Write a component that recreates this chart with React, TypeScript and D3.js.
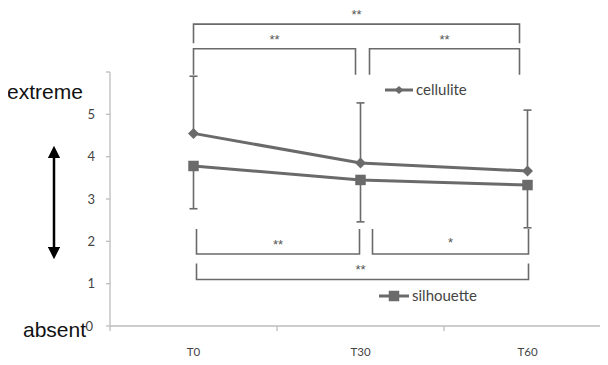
import { scaleBand, scaleLinear, line, symbol, symbolSquare } from 'd3'

const times = ['T0', 'T30', 'T60']
const cellulite = [4.55, 3.85, 3.66]
const celluliteUpper = [5.9, 5.27, 5.1]
const silhouette = [3.78, 3.45, 3.33]
const silhouetteLower = [2.77, 2.46, 2.32]
const yTicks = [0, 1, 2, 3, 4, 5, 6]

// brackets: [from, to, level value, star label]
const topBrackets: [string, string, number, string][] = [
  ['T0', 'T60', 7.13, '**'],
  ['T0', 'T30', 6.55, '**'],
  ['T30', 'T60', 6.55, '**'],
]
const bottomBrackets: [string, string, number, string][] = [
  ['T0', 'T30', 1.7, '**'],
  ['T30', 'T60', 1.7, '*'],
  ['T0', 'T60', 1.1, '**'],
]

const grey = '#6a6a6a'
const tickFont = 'Lato, "Open Sans", sans-serif'
const starFont = '"Liberation Sans", Arial, sans-serif'

export default function App() {
  const x = scaleBand<string>().domain(times).range([110, 611])
  const y = scaleLinear().domain([0, 6]).range([326, 72])
  const cx = (t: string) => (x(t) as number) + x.bandwidth() / 2
  const path = line<number>()
    .x((_, i) => cx(times[i]))
    .y((d) => y(d))
  const diamond = 'M0,-5.5L5.5,0L0,5.5L-5.5,0Z'
  const square = symbol().type(symbolSquare).size(110)()

  return (
    <svg width={608} height={365} style={{ display: 'block', marginTop: -8, marginLeft: -8 }}>
      <defs>
        <marker id="ah" viewBox="0 0 10 10" refX="5" refY="5" markerWidth="5" markerHeight="5" orient="auto-start-reverse">
          <path d="M0,0 L10,5 L0,10 z" fill="#000" />
        </marker>
      </defs>
      <rect width={608} height={365} fill="#fff" />
      {/* axes */}
      <line x1={110} x2={608} y1={y(0)} y2={y(0)} stroke="#bdbdbd" strokeWidth={1.3} />
      <line x1={110} x2={110} y1={y(0)} y2={y(6)} stroke="#bdbdbd" strokeWidth={1.3} />
      {yTicks.map((t) => (
        <g key={t}>
          <line x1={106} x2={110} y1={y(t)} y2={y(t)} stroke="#bdbdbd" strokeWidth={1.3} />
          {t < 6 && (
            <text x={t === 0 ? 93 : 95} y={y(t) + 4.5} textAnchor="end" fontSize={13} fontFamily={tickFont} fill="#444">
              {t}
            </text>
          )}
        </g>
      ))}
      {[...times.map((t) => x(t) as number), 611].map((v, i) => (
        <line key={i} x1={v} x2={v} y1={y(0)} y2={y(0) + 5} stroke="#bdbdbd" strokeWidth={1.3} />
      ))}
      {times.map((t) => (
        <text key={t} x={cx(t)} y={356} textAnchor="middle" fontSize={11.5} fontFamily={tickFont} fill="#444">
          {t}
        </text>
      ))}

      {/* error bars */}
      {times.map((t, i) => (
        <g key={t} stroke={grey} strokeWidth={1.6}>
          <line x1={cx(t)} x2={cx(t)} y1={y(cellulite[i])} y2={y(celluliteUpper[i])} />
          <line x1={cx(t) - 4} x2={cx(t) + 4} y1={y(celluliteUpper[i])} y2={y(celluliteUpper[i])} />
          <line x1={cx(t)} x2={cx(t)} y1={y(silhouette[i])} y2={y(silhouetteLower[i])} />
          <line x1={cx(t) - 4} x2={cx(t) + 4} y1={y(silhouetteLower[i])} y2={y(silhouetteLower[i])} />
        </g>
      ))}

      {/* series */}
      <path d={path(cellulite) ?? ''} fill="none" stroke={grey} strokeWidth={3} />
      <path d={path(silhouette) ?? ''} fill="none" stroke={grey} strokeWidth={3} />
      {cellulite.map((v, i) => (
        <path key={i} d={diamond} transform={`translate(${cx(times[i])},${y(v)})`} fill={grey} />
      ))}
      {silhouette.map((v, i) => (
        <path key={i} d={square ?? ''} transform={`translate(${cx(times[i])},${y(v)})`} fill={grey} />
      ))}

      {/* significance brackets above */}
      {topBrackets.map(([a, b, lvl, lab], i) => {
        const x1 = cx(a) + (a === 'T30' ? 9 : 0)
        const x2 = cx(b) - (b === 'T30' ? 5 : 8)
        const yy = y(lvl)
        const drop = i === 0 ? 19 : 26
        return (
          <g key={i}>
            <path d={`M${x1},${yy + drop}V${yy}H${x2}V${yy + drop}`} fill="none" stroke={grey} strokeWidth={1.6} />
            <text x={(x1 + x2) / 2} y={yy - 5} textAnchor="middle" fontSize={13} fontFamily={starFont} fill="#555">
              {lab}
            </text>
          </g>
        )
      })}

      {/* significance brackets below */}
      {bottomBrackets.map(([a, b, lvl, lab], i) => {
        const x1 = cx(a) + (a === 'T30' ? 12 : 3)
        const x2 = cx(b) + (b === 'T30' ? -1 : 1)
        const yy = y(lvl)
        const rise = i < 2 ? 25 : 16
        return (
          <g key={i}>
            <path d={`M${x1},${yy - rise}V${yy}H${x2}V${yy - rise}`} fill="none" stroke={grey} strokeWidth={1.6} />
            <text
              x={i === 2 ? cx('T30') : (x1 + x2) / 2}
              y={i === 1 ? yy - 7 : yy - 5}
              textAnchor="middle"
              fontSize={13}
              fontFamily={starFont}
              fill="#555"
            >
              {lab}
            </text>
          </g>
        )
      })}

      {/* legend */}
      <g>
        <line x1={385} x2={413} y1={90} y2={90} stroke={grey} strokeWidth={3} />
        <path d="M0,-4L4.5,0L0,4L-4.5,0Z" transform="translate(399,90)" fill={grey} />
        <text x={416} y={95} fontSize={15} fontFamily={tickFont} fill="#444">
          cellulite
        </text>
        <line x1={379} x2={409} y1={296} y2={296} stroke={grey} strokeWidth={3} />
        <path d={square ?? ''} transform="translate(394,296)" fill={grey} />
        <text x={412} y={301} fontSize={15} fontFamily={tickFont} fill="#444">
          silhouette
        </text>
      </g>

      {/* scale annotation */}
      <text x={7} y={99} fontSize={21} fontFamily='"Liberation Sans", Arial, sans-serif' fill="#111">
        extreme
      </text>
      <text x={23} y={337} fontSize={21} fontFamily='"Liberation Sans", Arial, sans-serif' fill="#111">
        absent
      </text>
      <line x1={54} x2={54} y1={152} y2={253} stroke="#000" strokeWidth={2.5} markerStart="url(#ah)" markerEnd="url(#ah)" />
    </svg>
  )
}
